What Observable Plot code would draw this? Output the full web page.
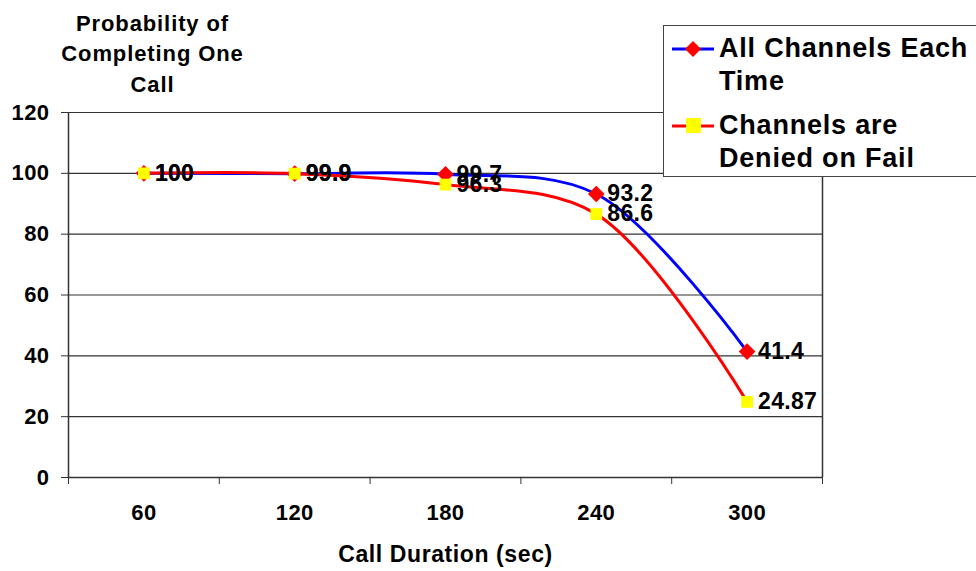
<!DOCTYPE html>
<html>
<head>
<meta charset="utf-8">
<script src="https://cdn.jsdelivr.net/npm/d3@7"></script>
<script src="https://cdn.jsdelivr.net/npm/@observablehq/plot@0.6"></script>
<style>
  html, body { margin: 0; padding: 0; background: #fff; overflow: hidden; }
  #wrap { position: relative; width: 976px; height: 571px; font-family: "Liberation Sans", Arial, sans-serif; }
  #legend { position: absolute; left: 663px; top: 25px; width: 330px; height: 152px; border: 1px solid #444; background: #fff; box-sizing: border-box; }
  .lg-text { position: absolute; left: 55px; font-size: 27px; font-weight: bold; color: #000; line-height: 33px; white-space: nowrap; letter-spacing: 0.8px; }
  .lg-sym { position: absolute; left: 8px; }
  .ytitle text { letter-spacing: 0.9px; }
  .xtitle text { letter-spacing: 0.6px; }
  .ticklab text { letter-spacing: 0.4px; }
  .dlab text { letter-spacing: 0.3px; }
</style>
</head>
<body>
<div id="wrap"></div>
<script>
const durations = [60, 120, 180, 240, 300];
const allChannels = [100, 99.9, 99.7, 93.2, 41.4];
const deniedOnFail = [100, 99.9, 96.3, 86.6, 24.87];
const seriesNames = ["All Channels Each Time", "Channels are Denied on Fail"];
const yTicks = [0, 20, 40, 60, 80, 100, 120];
const xBounds = [30, 90, 150, 210, 270, 330];

const s1 = durations.map((d, i) => ({x: d, y: allChannels[i], label: String(allChannels[i])}));
const s2 = durations.map((d, i) => ({x: d, y: deniedOnFail[i], label: String(deniedOnFail[i])}));

const font = "'Liberation Sans', Arial, sans-serif";

const chart = Plot.plot({
  width: 976,
  height: 571,
  marginLeft: 68,
  marginRight: 154,
  marginTop: 112,
  marginBottom: 94,
  style: {fontFamily: font, fontSize: "22px", fontWeight: "bold", color: "#000", background: "#fff"},
  x: {type: "linear", domain: [30, 330]},
  y: {domain: [0, 120]},
  marks: [
    Plot.gridY(yTicks, {stroke: "#333", strokeOpacity: 1, strokeWidth: 1.2}),
    Plot.axisY(yTicks, {tickSize: 7, tickPadding: 12, stroke: "#333", label: null, fontSize: 22, fontWeight: "bold", className: "ticklab"}),
    Plot.ruleX([30], {stroke: "#333", strokeWidth: 1.5}),
    Plot.ruleX([330], {stroke: "#333", strokeWidth: 1.5}),
    Plot.ruleY([0], {stroke: "#333", strokeWidth: 1.5}),
    Plot.axisX(xBounds, {tickSize: 7, tickFormat: () => "", stroke: "#333", label: null}),
    Plot.axisX(durations, {tickSize: 0, tickPadding: 27, label: null, fontSize: 22, fontWeight: "bold", className: "ticklab"}),
    Plot.text(["Call Duration (sec)"], {frameAnchor: "bottom", dy: 84, fontSize: 23, fontWeight: "bold", className: "xtitle"}),
    Plot.text(["Probability of\nCompleting One\nCall"], {frameAnchor: "top-left", dx: 84, dy: -61, textAnchor: "middle", lineAnchor: "middle", lineHeight: 1.4, fontSize: 22, fontWeight: "bold", className: "ytitle"}),
    Plot.line(s1, {x: "x", y: "y", stroke: "#0000ff", strokeWidth: 3, curve: "catmull-rom"}),
    Plot.dot(s1, {x: "x", y: "y", symbol: "diamond2", r: 7.5, fill: "#ff0000", stroke: "none"}),
    Plot.line(s2, {x: "x", y: "y", stroke: "#ff0000", strokeWidth: 3, curve: "catmull-rom"}),
    Plot.dot(s2, {x: "x", y: "y", symbol: "square2", r: 7.5, fill: "#ffff00", stroke: "none"}),
    Plot.text(s1, {x: "x", y: "y", text: "label", textAnchor: "start", dx: 11, fontSize: 23, fontWeight: "bold", fill: "#000", className: "dlab"}),
    Plot.text(s2, {x: "x", y: "y", text: "label", textAnchor: "start", dx: 11, fontSize: 23, fontWeight: "bold", fill: "#000", className: "dlab"})
  ]
});

const wrap = document.getElementById("wrap");
wrap.appendChild(chart);

const legend = document.createElement("div");
legend.id = "legend";
legend.innerHTML = `
  <svg class="lg-sym" style="top:12px" width="44" height="22">
    <line x1="0" y1="11" x2="42" y2="11" stroke="#0000ff" stroke-width="3"/>
    <path d="M21 3 L29 11 L21 19 L13 11 Z" fill="#ff0000"/>
  </svg>
  <div class="lg-text" style="top:6px">All Channels Each<br>Time</div>
  <svg class="lg-sym" style="top:89px" width="44" height="22">
    <line x1="0" y1="11" x2="42" y2="11" stroke="#ff0000" stroke-width="3"/>
    <rect x="14" y="3" width="15" height="15" fill="#ffff00"/>
  </svg>
  <div class="lg-text" style="top:83px">Channels are<br>Denied on Fail</div>
`;
wrap.appendChild(legend);
</script>
</body>
</html>
